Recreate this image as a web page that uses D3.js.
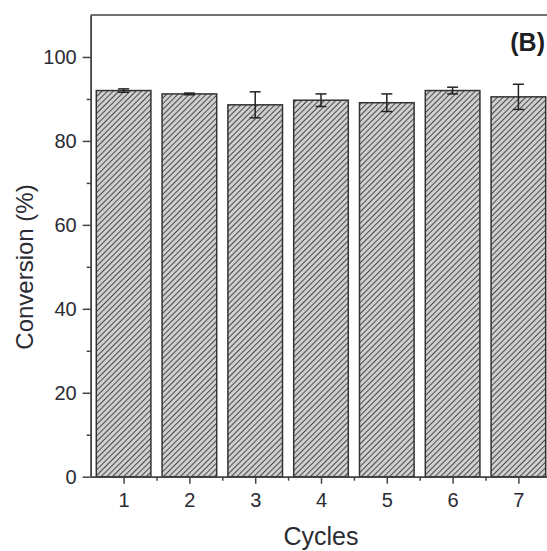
<!DOCTYPE html>
<html>
<head>
<meta charset="utf-8">
<script src="https://cdn.jsdelivr.net/npm/d3@7"></script>
<style>
  body { margin: 0; background: #fff; }
  svg { display: block; font-family: "Liberation Sans", Arial, sans-serif; }
  .tick text { fill: #2b2b33; }
</style>
</head>
<body>
<div id="chart"></div>
<script>
// data
var cycles = [1, 2, 3, 4, 5, 6, 7];
var conversion = [92.0, 91.2, 88.6, 89.7, 89.1, 92.0, 90.5];
var errors = [0.4, 0.2, 3.1, 1.5, 2.1, 0.8, 3.0];
var yTicks = [0, 20, 40, 60, 80, 100];
var yMinor = [10, 30, 50, 70, 90];
var xMinor = [1.5, 2.5, 3.5, 4.5, 5.5, 6.5];

var width = 547, height = 551;
var margin = { left: 90.7, top: 15, bottom: 74.3 };
var plotRight = 551.3;

var svg = d3.select("#chart")
    .append("svg")
        .attr("width", width)
        .attr("height", height);

// hatch pattern ///
var defs = svg.append("defs");
var pat = defs.append("pattern")
    .attr("id", "hatch")
    .attr("patternUnits", "userSpaceOnUse")
    .attr("width", 4)
    .attr("height", 4)
    .attr("patternTransform", "rotate(45)");
pat.append("rect")
    .attr("width", 4).attr("height", 4)
    .attr("fill", "#cfcfcf");
pat.append("line")
    .attr("x1", 0).attr("y1", 0).attr("x2", 0).attr("y2", 4)
    .attr("stroke", "#4a4a4a").attr("stroke-width", 2);

var x = d3.scaleLinear()
    .domain([0.5, 7.5])
    .range([margin.left, plotRight]);
var y = d3.scaleLinear()
    .domain([0, 110])
    .range([height - margin.bottom, margin.top]);

var barW = (x(1.83) - x(1));

// bars
svg.selectAll(".bar")
    .data(cycles)
    .enter().append("rect")
        .attr("class", "bar")
        .attr("x", function(d) { return x(d) - barW / 2; })
        .attr("y", function(d, i) { return y(conversion[i]); })
        .attr("width", barW)
        .attr("height", function(d, i) { return y(0) - y(conversion[i]); })
        .attr("fill", "url(#hatch)")
        .attr("stroke", "#333")
        .attr("stroke-width", 1.5);

// error bars
var eb = svg.selectAll(".err")
    .data(cycles)
    .enter().append("g")
        .attr("class", "err")
        .attr("stroke", "#222")
        .attr("stroke-width", 1.5);
eb.append("line")
    .attr("x1", function(d) { return x(d); })
    .attr("x2", function(d) { return x(d); })
    .attr("y1", function(d, i) { return y(conversion[i] + errors[i]); })
    .attr("y2", function(d, i) { return y(conversion[i] - errors[i]); });
[1, -1].forEach(function(s) {
    eb.append("line")
        .attr("x1", function(d) { return x(d) - 5.5; })
        .attr("x2", function(d) { return x(d) + 5.5; })
        .attr("y1", function(d, i) { return y(conversion[i] + s * errors[i]); })
        .attr("y2", function(d, i) { return y(conversion[i] + s * errors[i]); });
});

// axes
var yAxis = svg.append("g")
    .attr("transform", "translate(" + margin.left + ",0)")
    .call(d3.axisLeft(y).tickValues(yTicks).tickSize(8).tickPadding(6).tickSizeOuter(0));
var yMinorAxis = svg.append("g")
    .attr("transform", "translate(" + margin.left + ",0)")
    .call(d3.axisLeft(y).tickValues(yMinor).tickSize(4).tickFormat("").tickSizeOuter(0));
var xAxis = svg.append("g")
    .attr("transform", "translate(0," + y(0) + ")")
    .call(d3.axisBottom(x).tickValues(cycles).tickSize(7).tickPadding(9).tickFormat(d3.format("d")).tickSizeOuter(0));
var xMinorAxis = svg.append("g")
    .attr("transform", "translate(0," + y(0) + ")")
    .call(d3.axisBottom(x).tickValues(xMinor).tickSize(4).tickFormat("").tickSizeOuter(0));

[yAxis, yMinorAxis, xAxis, xMinorAxis].forEach(function(a) {
    a.selectAll("path, line").attr("stroke", "#444").attr("stroke-width", 1.5);
    a.selectAll("text").style("font-size", "20px");
});

// top frame line
svg.append("line")
    .attr("x1", x(0.5)).attr("x2", x(7.5))
    .attr("y1", y(110)).attr("y2", y(110))
    .attr("stroke", "#444").attr("stroke-width", 1.5);
svg.append("line")
    .attr("x1", x(7.5)).attr("x2", x(7.5))
    .attr("y1", y(110)).attr("y2", y(0))
    .attr("stroke", "#444").attr("stroke-width", 1.5);

//// text labels ////
svg.append("text")
    .attr("transform", "translate(33,267) rotate(-90)")
    .style("text-anchor", "middle")
    .style("font-size", "24px")
    .attr("fill", "#2b2b33")
    .text("Conversion (%)");

svg.append("text")
    .attr("x", x(4))
    .attr("y", 545)
    .style("text-anchor", "middle")
    .style("font-size", "25px")
    .attr("fill", "#2b2b33")
    .text("Cycles");

svg.append("text")
    .attr("x", 545)
    .attr("y", 51)
    .style("text-anchor", "end")
    .style("font-size", "25px")
    .style("font-weight", "bold")
    .attr("fill", "#1e1e24")
    .text("(B)");
</script>
</body>
</html>
